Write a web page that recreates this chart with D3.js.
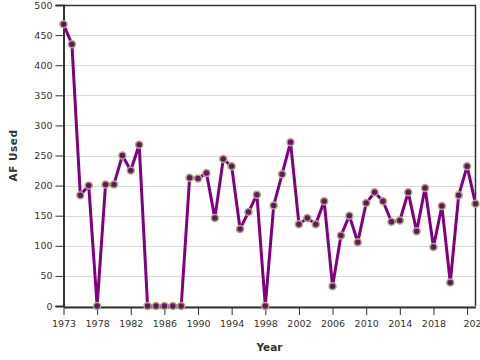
<!DOCTYPE html>
<html>
<head>
<meta charset="utf-8">
<script src="https://cdn.jsdelivr.net/npm/d3@7"></script>
<style>
  html, body { margin: 0; padding: 0; background: #fff; }
  svg { display: block; }
  text { font-family: "DejaVu Sans", Verdana, sans-serif; }
</style>
</head>
<body>
<svg id="chart" width="480" height="360"></svg>
<script>
const years = [1973, 1975, 1976, 1977, 1978, 1979, 1980, 1981, 1982, 1983,
  1984, 1985, 1986, 1987, 1988, 1989, 1990, 1991, 1992, 1993,
  1994, 1995, 1996, 1997, 1998, 1999, 2000, 2001, 2002, 2003,
  2004, 2005, 2006, 2007, 2008, 2009, 2010, 2011, 2012, 2013,
  2014, 2015, 2016, 2017, 2018, 2019, 2020, 2021, 2022, 2023];
const afUsed = [468, 435, 184, 200, 0, 202, 202, 250, 225, 268,
  0, 0, 0, 0, 0, 213, 212, 221, 146, 244,
  232, 128, 156, 185, 0, 167, 219, 272, 136, 146,
  136, 174, 33, 117, 150, 106, 171, 189, 174, 140,
  142, 189, 124, 196, 98, 166, 39, 184, 232, 170];
const xTickYears = [1973, 1978, 1982, 1986, 1990, 1994, 1998, 2002, 2006, 2010, 2014, 2018, 2022];
const yTicks = [0, 50, 100, 150, 200, 250, 300, 350, 400, 450, 500];

const margin = {left: 63.5, right: 4.5, top: 5, bottom: 54};
const W = 480, H = 360;
const svg = d3.select("#chart");

const x = d3.scalePoint().domain(years).range([margin.left, W - margin.right]).padding(0);
const y = d3.scaleLinear().domain([0, 500]).range([H - margin.bottom, margin.top]);

// gridlines
svg.append("g").selectAll("line").data(yTicks).join("line")
  .attr("x1", margin.left).attr("x2", W - margin.right)
  .attr("y1", d => Math.round(y(d)) + 0.5).attr("y2", d => Math.round(y(d)) + 0.5)
  .attr("stroke", "#d9d9d9").attr("stroke-width", 1);

// frame top/right
svg.append("path")
  .attr("d", `M${margin.left},${margin.top + 0.5}H${W - margin.right}V${H - margin.bottom}`)
  .attr("fill", "none").attr("stroke", "#333").attr("stroke-width", 1.5);

// y axis
const yAxis = svg.append("g").attr("transform", `translate(${margin.left},0)`)
  .call(d3.axisLeft(y).tickValues(yTicks).tickSize(8).tickPadding(3));
yAxis.select(".domain").attr("stroke", "#333").attr("stroke-width", 2);
yAxis.selectAll(".tick line").attr("stroke", "#333").attr("stroke-width", 1);
yAxis.selectAll(".tick text").attr("fill", "#333").style("font-size", "9.5px")
  .style("font-family", "DejaVu Sans, sans-serif");

// x axis
const xAxis = svg.append("g").attr("transform", `translate(0,${H - margin.bottom + 1})`)
  .call(d3.axisBottom(x).tickValues(xTickYears).tickSize(8).tickPadding(5).tickSizeOuter(0));
xAxis.select(".domain").attr("stroke", "#333").attr("stroke-width", 2);
xAxis.selectAll(".tick line").attr("stroke", "#333").attr("stroke-width", 1);
xAxis.selectAll(".tick text").attr("fill", "#333").style("font-size", "9.5px")
  .style("font-family", "DejaVu Sans, sans-serif");
xAxis.selectAll(".tick text").filter(d => d === 2022).attr("dx", "8px");

// axis titles
svg.append("text").attr("x", (margin.left + W - margin.right) / 2).attr("y", 351)
  .attr("text-anchor", "middle").attr("font-weight", "bold").attr("font-size", "10.5px")
  .attr("fill", "#333").text("Year");
svg.append("text").attr("transform", `translate(17,${(margin.top + H - margin.bottom) / 2}) rotate(-90)`)
  .attr("text-anchor", "middle").attr("font-weight", "bold").attr("font-size", "10.5px")
  .attr("fill", "#333").attr("letter-spacing", "0.5px").text("AF Used");

// line
const data = years.map((yr, i) => ({year: yr, v: afUsed[i]}));
svg.append("path").datum(data)
  .attr("d", d3.line().x(d => x(d.year)).y(d => y(d.v)))
  .attr("fill", "none").attr("stroke", "#800080").attr("stroke-width", 3)
  .attr("stroke-linejoin", "round");

// points
svg.append("g").selectAll("circle").data(data).join("circle")
  .attr("cx", d => x(d.year)).attr("cy", d => y(d.v)).attr("r", 3.5)
  .attr("fill", "#5e1a5e").attr("stroke", "#b3a383").attr("stroke-width", 1.5);
</script>
</body>
</html>
